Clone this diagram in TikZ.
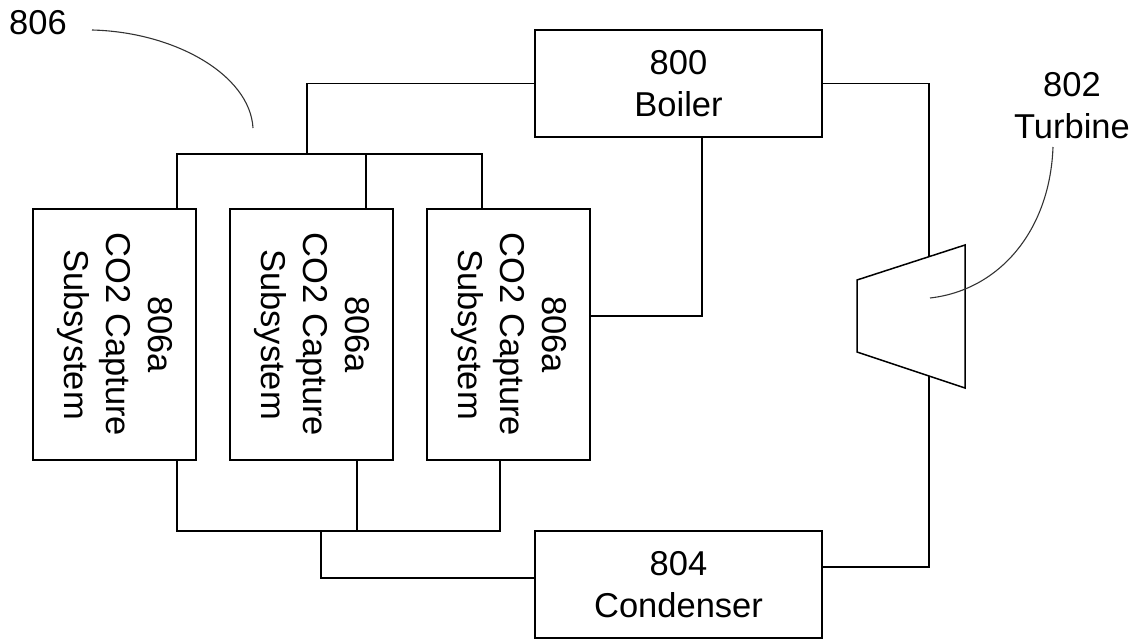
\documentclass[tikz,border=0pt]{standalone}
\usepackage{fontspec}
\setmainfont{Liberation Sans}
\begin{document}
\begin{tikzpicture}[x=1pt,y=-1pt,
  box/.style={draw=black, line width=1.5pt, inner sep=0pt, outer sep=0pt, align=center, font=\fontsize{34.5}{42}\selectfont},
  capbox/.style={box, minimum width=163pt, minimum height=251pt},
  bigbox/.style={box, minimum width=287pt, minimum height=107pt},
  wire/.style={draw=black, line width=1.5pt},
  leader/.style={draw=black!80, line width=1.1pt},
  lbl/.style={inner sep=0pt, align=center, font=\fontsize{34.5}{42}\selectfont}]
\useasboundingbox (0,0) rectangle (1136,640);

% main nodes
\node[bigbox] (boiler) at (678.5,83.5) {800\\Boiler};
\node[bigbox] (cond) at (678.5,584.5) {804\\Condenser};
\node[capbox] (c1) at (114.5,334.5) {\rotatebox{-90}{\begin{tabular}{@{}c@{}}806a\\CO2 Capture\\Subsystem\end{tabular}}};
\node[capbox] (c2) at (311.5,334.5) {\rotatebox{-90}{\begin{tabular}{@{}c@{}}806a\\CO2 Capture\\Subsystem\end{tabular}}};
\node[capbox] (c3) at (508.5,334.5) {\rotatebox{-90}{\begin{tabular}{@{}c@{}}806a\\CO2 Capture\\Subsystem\end{tabular}}};

% turbine
\coordinate (tA) at (857,280);
\coordinate (tB) at (965,245);
\coordinate (tC) at (965,388);
\coordinate (tD) at (857,352);
\draw[wire, line join=miter] (tA) -- (tB) -- (tC) -- (tD) -- cycle;
\coordinate (tin) at (929,256.7);
\coordinate (tout) at (929,376);

% labels
\node[lbl] (l806) at (38,22.5) {806};
\node[lbl] (l802) at (1072,105.5) {802\\Turbine};

% upper distribution
\coordinate (bj) at (307,154);
\coordinate (t1) at (177,154);
\coordinate (t2) at (366,154);
\coordinate (t3) at (482,154);
\draw[wire] (boiler.west) -| (bj);
\draw[wire] (t1 |- c1.north) -- (t1) -- (t3) -- (t3 |- c3.north);
\draw[wire] (t2) -- (t2 |- c2.north);

% box 3 to boiler
\coordinate (r3) at (702,316);
\draw[wire] (r3 -| c3.east) -- (r3) -- (r3 |- boiler.south);

% boiler to turbine to condenser
\draw[wire] (boiler.east) -| (tin);
\coordinate (cr) at (929,567);
\draw[wire] (tout) -- (cr) -- (cr -| cond.east);

% lower collection
\coordinate (b1) at (177,531);
\coordinate (b2) at (357,531);
\coordinate (b3) at (500,531);
\coordinate (bj2) at (321,531);
\coordinate (cl) at (321,578);
\draw[wire] (b1 |- c1.south) -- (b1) -- (b3) -- (b3 |- c3.south);
\draw[wire] (b2 |- c2.south) -- (b2);
\draw[wire] (bj2) -- (cl) -- (cl -| cond.west);

% leaders
\coordinate (s806) at (92,30);
\coordinate (e806) at (253,128);
\draw[leader] (s806) .. controls (175,32) and (250,75) .. (e806);
\coordinate (s802) at (1053,147);
\coordinate (e802) at (930,298);
\draw[leader] (s802) .. controls (1050,230) and (1000,290) .. (e802);
\end{tikzpicture}
\end{document}
